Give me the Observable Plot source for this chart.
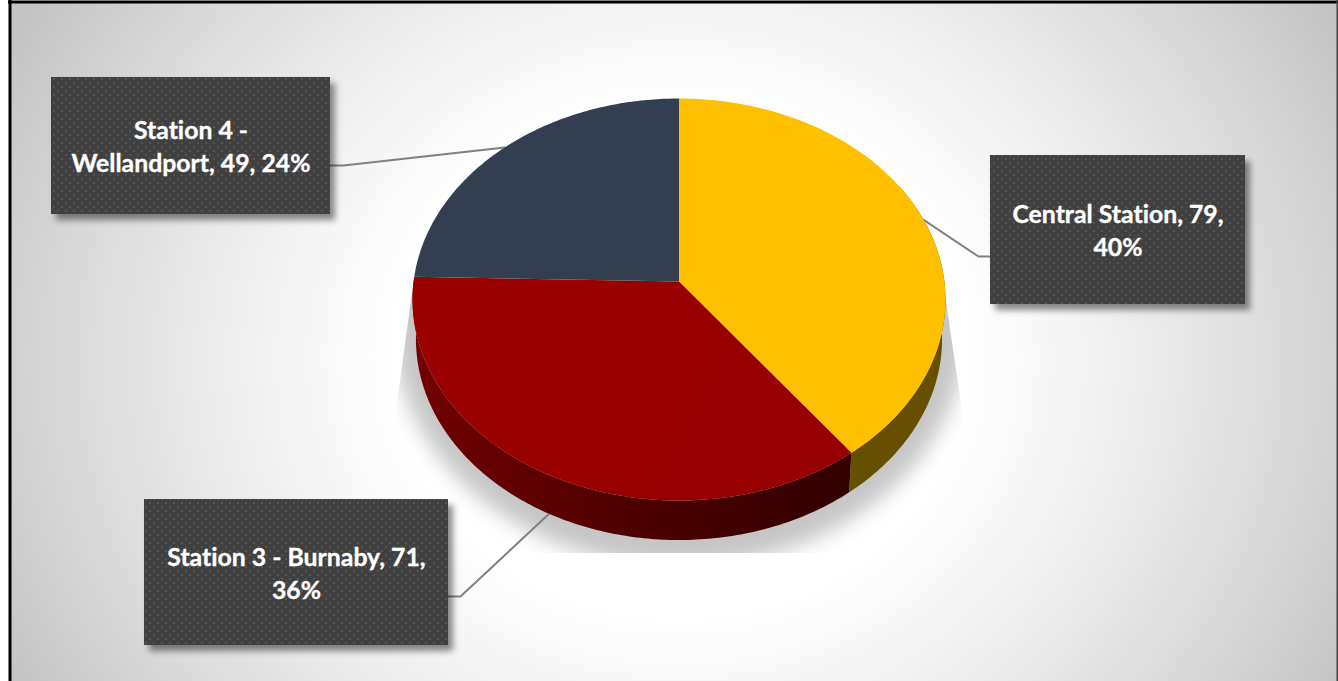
<!DOCTYPE html>
<html>
<head>
<meta charset="utf-8">
<script src="https://cdn.jsdelivr.net/npm/d3@7"></script>
<script src="https://cdn.jsdelivr.net/npm/@observablehq/plot@0.6"></script>
<style>
  html, body { margin: 0; padding: 0; background: #fff; overflow: hidden; }
  svg { display: block; }
  svg text { font-variant-ligatures: none; }
</style>
</head>
<body>
<div id="chart"></div>
<script>
// Ridership by station
const stations = ["Central Station", "Station 3 - Burnaby", "Station 4 - Wellandport"];
const counts = [79, 71, 49];
const percents = [40, 36, 24];
const wrapAfter = [20, 24, 11];

const faceColors = ["#FFC000", "url(#redFace)", "#333F50"];
const sideColors = ["#665000", "url(#redSide)", "#1f2733"];

// Label boxes and the elbow of each leader line
const boxX1 = [990, 144, 51];
const boxX2 = [1245, 448, 330];
const boxY1 = [155, 499, 77];
const boxY2 = [304, 645, 214];
const elbowX = [978, 460, 343];
const elbowY = [256, 596, 165];
const stubX = [990, 448, 330];

// Tilted disc: a circle seen in perspective, with a lower rim for the thickness
const tilt = {cx: 678.5, cy: 281, rx: 265.4, ry: 199.4, k: 0.0896};
const rim = {rx: 262, drop: 39.5};

const project = (a, lower = false) => {
  const u = Math.sin(a), v = -Math.cos(a), d = 1 - tilt.k * v;
  return {
    x: tilt.cx + (lower ? rim.rx : tilt.rx) * u / d,
    y: tilt.cy + (lower ? rim.drop : 0) + tilt.ry * v / d
  };
};

const arcSamples = (a0, a1) => {
  const n = Math.max(2, Math.ceil(Math.abs(a1 - a0) / (Math.PI / 240)));
  return d3.range(n + 1).map(i => a0 + (a1 - a0) * i / n);
};

const slices = d3.pie().sort(null).startAngle(0).endAngle(2 * Math.PI)(counts);

const faces = slices.map(s => [
  {x: tilt.cx, y: tilt.cy},
  ...arcSamples(s.startAngle, s.endAngle).map(a => project(a))
]);

// Only the front of the disc shows its side wall
const sideFrom = [Math.PI / 3, slices[1].startAngle];
const sideTo = [slices[0].endAngle, slices[1].endAngle];
const sides = sideFrom.map((from, i) => [
  ...arcSamples(from, sideTo[i]).map(a => project(a)),
  ...arcSamples(sideTo[i], from).map(a => project(a, true))
]);

// Soft floor shadow under the disc, cut by its own bounding shape
const floorShadow = arcSamples(0, 2 * Math.PI).map(a => ({
  x: tilt.cx + 1 + 287 * Math.sin(a),
  y: 325 + 241 * -Math.cos(a)
}));
const shadowBounds = "413,285 396,410 396,553 962,553 962,410 945,295";

const mids = slices.map(s => (s.startAngle + s.endAngle) / 2);
const leaders = mids.map((a, i) => [
  project(a, i === 1),
  {x: elbowX[i], y: elbowY[i]},
  {x: stubX[i], y: elbowY[i]}
]);

const labels = stations.map((name, i) => {
  const text = `${name}, ${counts[i]}, ${percents[i]}%`;
  return {
    text: text.slice(0, wrapAfter[i]).trimEnd() + "\n" + text.slice(wrapAfter[i]).trimStart(),
    x: (boxX1[i] + boxX2[i]) / 2,
    y: (boxY1[i] + boxY2[i]) / 2 - 1,
    x1: boxX1[i], x2: boxX2[i], y1: boxY1[i], y2: boxY2[i]
  };
});

const defs = () => {
  const svg = d3.create("svg:defs");
  const bg = svg.append("radialGradient").attr("id", "paper")
    .attr("gradientUnits", "userSpaceOnUse")
    .attr("cx", 0).attr("cy", 0).attr("r", 1)
    .attr("gradientTransform", "translate(680 360) scale(760 680)");
  [[0, "#ffffff"], [0.38, "#ffffff"], [0.66, "#e8e8e8"], [1, "#c4c4c4"]].forEach(([o, c]) =>
    bg.append("stop").attr("offset", o).attr("stop-color", c));

  const side = svg.append("linearGradient").attr("id", "redSide")
    .attr("gradientUnits", "userSpaceOnUse")
    .attr("x1", 415).attr("x2", 850).attr("y1", 0).attr("y2", 0);
  [[0, "#720000"], [0.5, "#4d0000"], [1, "#330000"]].forEach(([o, c]) =>
    side.append("stop").attr("offset", o).attr("stop-color", c));

  const face = svg.append("linearGradient").attr("id", "redFace")
    .attr("gradientUnits", "userSpaceOnUse")
    .attr("x1", 415).attr("x2", 850).attr("y1", 280).attr("y2", 500);
  [[0, "#9b0000"], [1, "#960000"]].forEach(([o, c]) =>
    face.append("stop").attr("offset", o).attr("stop-color", c));

  const dots = svg.append("pattern").attr("id", "dots")
    .attr("patternUnits", "userSpaceOnUse").attr("width", 8).attr("height", 8);
  dots.append("rect").attr("width", 8).attr("height", 8).attr("fill", "#404040");
  [[2, 3], [6, 7]].forEach(([x, y]) =>
    dots.append("circle").attr("cx", x).attr("cy", y).attr("r", 1).attr("fill", "#5c5c5c"));

  svg.append("clipPath").attr("id", "shadowBounds")
    .attr("clipPathUnits", "userSpaceOnUse")
    .append("polygon").attr("points", shadowBounds);
  return svg.node();
};

// Wraps a mark's group so the clip sits outside its blur
const clipped = (id) => (index, scales, values, dimensions, context, next) => {
  const inner = next(index, scales, values, dimensions, context);
  const outer = d3.create("svg:g").attr("clip-path", `url(#${id})`);
  outer.node().appendChild(inner);
  return outer.node();
};

const closed = (points, fill) => Plot.line(points, {
  x: "x", y: "y", fill, stroke: "none", curve: "linear-closed"
});

const plot = Plot.plot({
  width: 1338,
  height: 681,
  margin: 0,
  x: {domain: [0, 1338], range: [0, 1338], axis: null},
  y: {domain: [0, 681], range: [0, 681], axis: null},
  style: {background: "#fff"},
  marks: [
    defs,
    Plot.rect([{}], {x1: () => 10, x2: () => 1337, y1: () => 2, y2: () => 681, fill: "url(#paper)"}),
    Plot.line(floorShadow, {
      x: "x", y: "y", fill: "#c6c6c6", stroke: "none", curve: "linear-closed",
      imageFilter: "blur(10px)", render: clipped("shadowBounds")
    }),
    ...leaders.map(points => Plot.line(points, {x: "x", y: "y", stroke: "#808080", strokeWidth: 2})),
    ...sides.map((points, i) => closed(points, sideColors[i])),
    ...faces.map((points, i) => closed(points, faceColors[i])),
    Plot.rect(labels, {
      x1: "x1", x2: "x2", y1: "y1", y2: "y2", fill: "url(#dots)",
      imageFilter: "drop-shadow(5px 6px 3px rgba(0,0,0,0.45))"
    }),
    Plot.text(labels, {
      x: "x", y: "y", text: "text", fill: "#fff", stroke: "#fff", strokeWidth: 0.35,
      fontFamily: "Lato", fontWeight: 700, fontSize: 24.8, lineHeight: 1.33,
      textAnchor: "middle"
    }),
    Plot.ruleX([9.5], {stroke: "#000", strokeWidth: 3}),
    Plot.ruleY([1.5], {x1: () => 8, x2: () => 1338, stroke: "#000", strokeWidth: 3}),
    Plot.ruleX([1337], {stroke: "#444", strokeWidth: 2})
  ]
});

document.getElementById("chart").appendChild(plot);
</script>
</body>
</html>
